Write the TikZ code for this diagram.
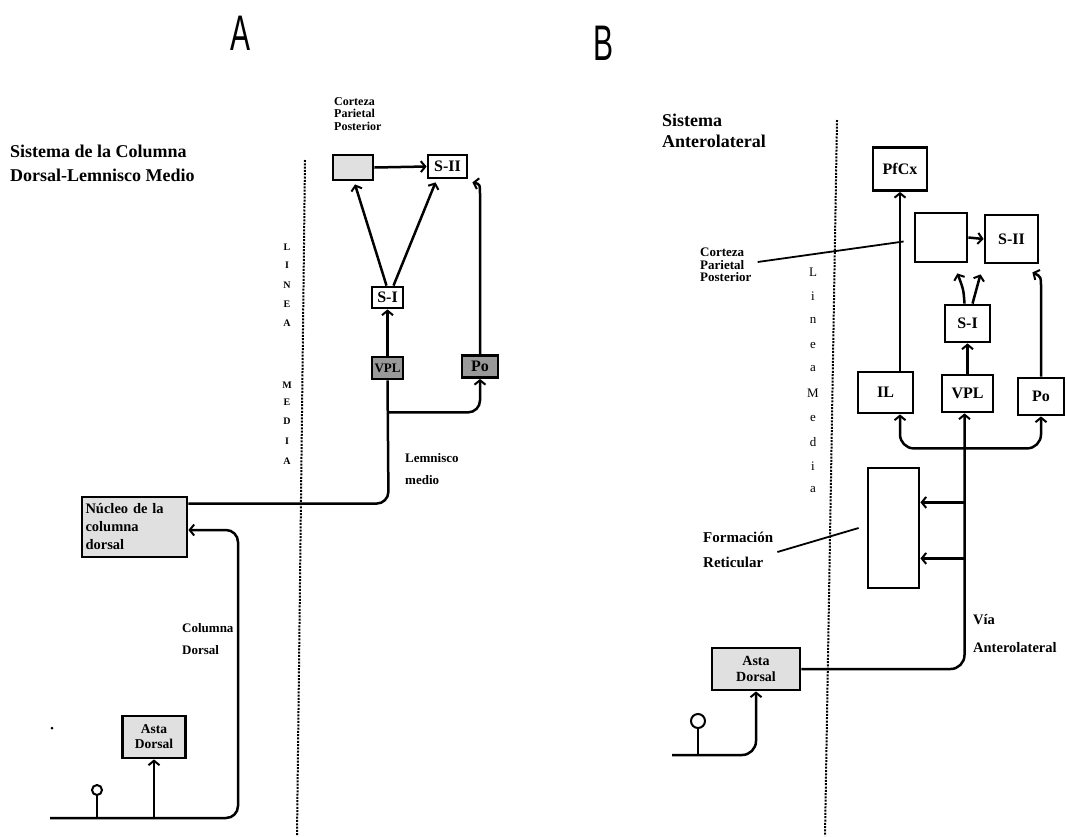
\documentclass[tikz,border=0pt]{standalone}
\usepackage{graphicx}
\usepackage{fontspec}
\setmainfont{Liberation Serif}
\newfontfamily\letterfont{Liberation Sans}
\usetikzlibrary{arrows.meta,calc}
\begin{document}
\begin{tikzpicture}[x=1pt,y=-1pt,
  conn/.style={line width=2.5pt},
  arr/.style={conn,-{Straight Barb[length=4.5pt,width=11pt,line width=2pt]}},
  sz/.style 2 args={minimum width=#1pt,minimum height=#2pt},
  bx/.style={draw,line width=2.8pt,inner sep=0pt,font=\bfseries\fontsize{16}{17}\selectfont},
  gbx/.style={bx,fill=black!12},
  dbx/.style={bx,fill=black!40},
  midline/.style={line width=2pt,dash pattern=on 2pt off 1.3pt},
  lbl/.style={inner sep=0pt,align=left,anchor=west},
  vl/.style={inner sep=0pt,font=\bfseries\fontsize{10}{10}\selectfont},
  vlb/.style={inner sep=0pt,font=\fontsize{13}{13}\selectfont},
]
\useasboundingbox[fill=white] (0,0) rectangle (1067,836);

% ---------- headings ----------
\node[inner sep=0pt] (hA) at (241,33) {\letterfont\fontsize{50}{50}\selectfont\scalebox{0.6}[1]{A}};
\node[inner sep=0pt] (hB) at (603,43) {\letterfont\fontsize{50}{50}\selectfont\scalebox{0.6}[1]{B}};

% ---------- panel A ----------
\node[lbl,font=\bfseries\fontsize{18}{24}\selectfont] (tA) at (10,163) {Sistema de la Columna\\Dorsal-Lemnisco Medio};
\node[lbl,font=\bfseries\fontsize{12}{12.5}\selectfont] (cplA) at (334,114) {Corteza\\Parietal\\Posterior};

\draw[midline] (305,160) -- (297,836);
\foreach \c/\y [count=\i] in {L/247,I/265,N/285,E/304,A/323,M/385,E/402,D/421,I/441,A/461}
  \node[vl] (lmA\i) at (287,\y) {\c};

\node[gbx,sz={40}{25}] (cpA) at (353,167.5) {};
\node[bx,sz={39}{23}] (s2A) at (447.5,166.5) {S-II};
\node[bx,sz={31}{21}] (s1A) at (387.5,297.5) {S-I};
\node[dbx,sz={31}{22},font=\bfseries\fontsize{13}{13}\selectfont] (vplA) at (387.5,368) {VPL};
\node[dbx,sz={36}{22}] (poA) at (480,366.5) {Po};
\node[gbx,sz={105}{60},align=left,font=\bfseries\fontsize{14.5}{18}\selectfont,text width=98pt] (nucA) at (134.5,527) {N\'ucleo de la\\columna\\dorsal};
\node[gbx,sz={63}{42},align=center,font=\bfseries\fontsize{13.5}{15}\selectfont] (astaA) at (154,737) {Asta\\Dorsal};

\node[lbl,font=\bfseries\fontsize{13}{22}\selectfont] (lemA) at (405,469) {Lemnisco\\medio};
\node[lbl,font=\bfseries\fontsize{13}{22}\selectfont] (colA) at (182,639) {Columna\\Dorsal};

\draw[arr] (cpA.east) -- (s2A.west);
\draw[arr] ($(s1A.north)+(-1,0)$) -- ($(cpA.south)+(2,3)$);
\draw[arr] ($(s1A.north)+(6,0)$) -- ($(s2A.south)+(-12,3)$);
\draw[arr] (vplA.north) -- (s1A.south);
\draw[arr] (poA.north) -- ($(poA.north)+(0,-158)$) .. controls ($(poA.north)+(0,-170)$) .. ($(s2A.south east)+(4,3)$);
\coordinate (brA) at ($(vplA.south)+(1,32)$);
\draw[arr,rounded corners=12pt] (brA) -| (poA.south);
\coordinate (nucR) at ($(nucA.north east)+(0,8)$);
\draw[conn,rounded corners=12pt] (vplA.south) -- ($(vplA.south |- nucR)+(1,0)$) -- (nucR);
\coordinate (nerveA) at (50,818);
\draw[arr,rounded corners=12pt] (nerveA) -- (238,818) -- (238,530) -- ($(nucA.east)+(0,3)$);
\coordinate (recA) at (97,818);
\draw[conn] (recA) -- ++(0,-23);
\draw[line width=2pt,fill=white] ($(recA)+(0,-28)$) circle[radius=5pt];
\draw[arr] (astaA.south |- nerveA) -- (astaA.south);
\fill (52,728) circle[radius=1.5pt];

% ---------- panel B ----------
\node[lbl,font=\bfseries\fontsize{18}{21}\selectfont] (tB) at (662,131) {Sistema\\Anterolateral};
\draw[midline] (837,120) -- (825,836);
\foreach \c/\y [count=\i] in {L/272,i/296,n/320,e/345,a/369,M/393,e/418,d/442,i/466,a/490}
  \node[vlb] (lmB\i) at (813,\y) {\c};

\node[bx,sz={54}{43}] (pfB) at (900,169) {PfCx};
\node[bx,sz={52}{49}] (cpB) at (941,237.5) {};
\node[bx,sz={53}{48}] (s2B) at (1011.5,239) {S-II};
\node[bx,sz={45}{37}] (s1B) at (967.5,323.5) {S-I};
\node[bx,sz={55}{41}] (ilB) at (885.5,392.5) {IL};
\node[bx,sz={51}{37}] (vplB) at (967.5,393.5) {VPL};
\node[bx,sz={46}{37}] (poB) at (1041,396.5) {Po};
\node[bx,sz={51}{120}] (forB) at (893.5,528) {};
\node[gbx,sz={88}{42},align=center,font=\bfseries\fontsize{14}{16}\selectfont] (astaB) at (756,669) {Asta\\Dorsal};

\node[lbl,font=\bfseries\fontsize{13}{12.5}\selectfont] (cplB) at (700,265) {Corteza\\Parietal\\Posterior};
\node[lbl,font=\bfseries\fontsize{15}{25}\selectfont] (forL) at (703,550) {Formaci\'on\\Reticular};
\node[lbl,font=\bfseries\fontsize{14.5}{28}\selectfont] (viaL) at (973,634) {V\'ia\\Anterolateral};

\draw[conn,line width=1.8pt] ($(cplB.east)+(6,-3)$) -- ($(cpB.west)+(-10,4)$);
\draw[conn,line width=1.8pt] ($(forL.east)+(4,2)$) -- ($(forB.west)+(-8,0)$);

\draw[arr] (pfB.south |- ilB.north) -- (pfB.south);
\draw[arr] (cpB.east) -- (s2B.west);
\draw[arr] ($(s1B.north)+(-3,0)$) .. controls ($(s1B.north)+(-4,-14)$) .. ($(cpB.south east)+(-11,10)$);
\draw[arr] ($(s1B.north)+(5,0)$) .. controls ($(s1B.north)+(8,-14)$) .. ($(s2B.south west)+(-3,10)$);
\draw[arr] (vplB.north) -- (s1B.south);
\draw[arr] (poB.north) -- ($(poB.north)+(0,-88)$) .. controls ($(poB.north)+(0,-100)$) .. ($(s2B.south east)+(-7,8)$);

\coordinate (stemB) at ($(vplB.south)+(-3,0)$);
\draw[arr,rounded corners=14pt] (astaB.east) -- (stemB |- astaB.east) -- (stemB);
\coordinate (brB) at ($(stemB)+(0,35)$);
\draw[arr,rounded corners=14pt] (brB) -| (pfB.south |- ilB.south);
\draw[arr,rounded corners=14pt] (brB) -| (poB.south);
\coordinate (fr1) at ($(stemB)+(0,89)$);
\coordinate (fr2) at ($(stemB)+(0,145)$);
\draw[arr] (fr1) -- (forB.east |- fr1);
\draw[arr] (fr2) -- (forB.east |- fr2);

\coordinate (nerveB) at (672,755);
\draw[arr,rounded corners=14pt] (nerveB) -| (astaB.south);
\coordinate (recB) at (698,755);
\draw[conn] (recB) -- ++(0,-27);
\draw[line width=2pt,fill=white] ($(recB)+(0,-34)$) circle[radius=7pt];
\end{tikzpicture}
\end{document}
